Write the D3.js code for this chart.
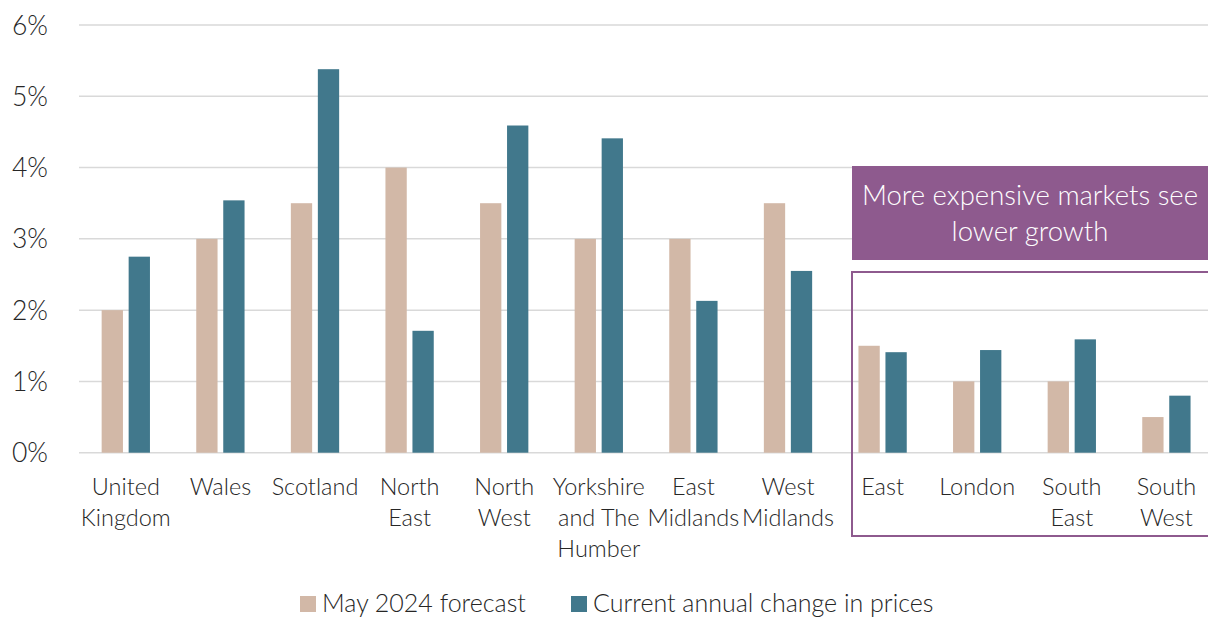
<!DOCTYPE html>
<html><head><meta charset="utf-8">
<script src="https://cdn.jsdelivr.net/npm/d3@7"></script>
<style>
html,body{margin:0;padding:0;background:#fff;}
svg text{font-family:"Lato","Open Sans",sans-serif;font-weight:300;fill:#262626;}
</style></head>
<body>
<svg id="chart" width="1208" height="617"></svg>
<script>
const categories = [["United","Kingdom"],["Wales"],["Scotland"],["North","East"],["North","West"],["Yorkshire","and The","Humber"],["East","Midlands"],["West","Midlands"],["East"],["London"],["South","East"],["South","West"]];
const forecast = [2.0,3.0,3.5,4.0,3.5,3.0,3.0,3.5,1.5,1.0,1.0,0.5];
const current = [2.75,3.54,5.38,1.71,4.59,4.41,2.13,2.55,1.41,1.44,1.59,0.80];
const seriesNames = ["May 2024 forecast","Current annual change in prices"];
const yTicks = [0,1,2,3,4,5,6];
const annotation = ["More expensive markets see","lower growth"];
const colors = ["#D2B8A7","#41788C"];

const svg = d3.select("#chart");
const idx = d3.range(categories.length);
const x = d3.scaleBand().domain(idx).range([78.5,1213.7]).paddingInner(0).paddingOuter(0);
const y = d3.scaleLinear().domain([0,6]).range([452.7,25]);
const barW = 21.3, gap = 5.7;

// gridlines
svg.append("g").selectAll("line").data(yTicks).join("line")
  .attr("x1",79).attr("x2",1208)
  .attr("y1",d=>y(d)).attr("y2",d=>y(d))
  .attr("stroke","#d9d9d9").attr("stroke-width",1.5);

// y axis labels
svg.append("g").selectAll("text").data(yTicks).join("text")
  .attr("x",48).attr("y",d=>y(d)+9.5)
  .attr("text-anchor","end").style("font-size","26.5px")
  .text(d=>d+"%");

// bars
const groupW = barW*2+gap;
const bars = svg.append("g");
[forecast,current].forEach((vals,s)=>{
  bars.append("g").selectAll("rect").data(vals).join("rect")
    .attr("x",(d,i)=>x(i)+(x.bandwidth()-groupW)/2+s*(barW+gap))
    .attr("width",barW)
    .attr("y",d=>y(d))
    .attr("height",d=>y(0)-y(d))
    .attr("fill",colors[s]);
});

// category labels
const cl = svg.append("g");
categories.forEach((lines,i)=>{
  const t = cl.append("text").attr("text-anchor","middle").style("font-size","23.5px")
    .attr("x",x(i)+x.bandwidth()/2).attr("y",495);
  lines.forEach((ln,k)=>t.append("tspan").attr("x",x(i)+x.bandwidth()/2).attr("dy",k===0?0:31).text(ln));
});

// annotation box
svg.append("rect").attr("x",852).attr("y",166).attr("width",360).attr("height",94).attr("fill","#8E5A8E");
const at = svg.append("text").attr("text-anchor","middle").style("font-size","27.5px").style("fill","#fff");
annotation.forEach((ln,k)=>at.append("tspan").attr("x",1030).attr("y",205+k*36).style("fill","#fff").text(ln));
svg.append("rect").attr("x",852).attr("y",272).attr("width",370).attr("height",264)
  .attr("fill","none").attr("stroke","#8E5A8E").attr("stroke-width",2);

// legend
const lg = svg.append("g");
const lx = [300,571];
seriesNames.forEach((n,s)=>{
  lg.append("rect").attr("x",lx[s]).attr("y",596).attr("width",16).attr("height",16).attr("fill",colors[s]);
  lg.append("text").attr("x",lx[s]+22).attr("y",612).style("font-size","25px").text(n);
});
</script>
</body></html>
